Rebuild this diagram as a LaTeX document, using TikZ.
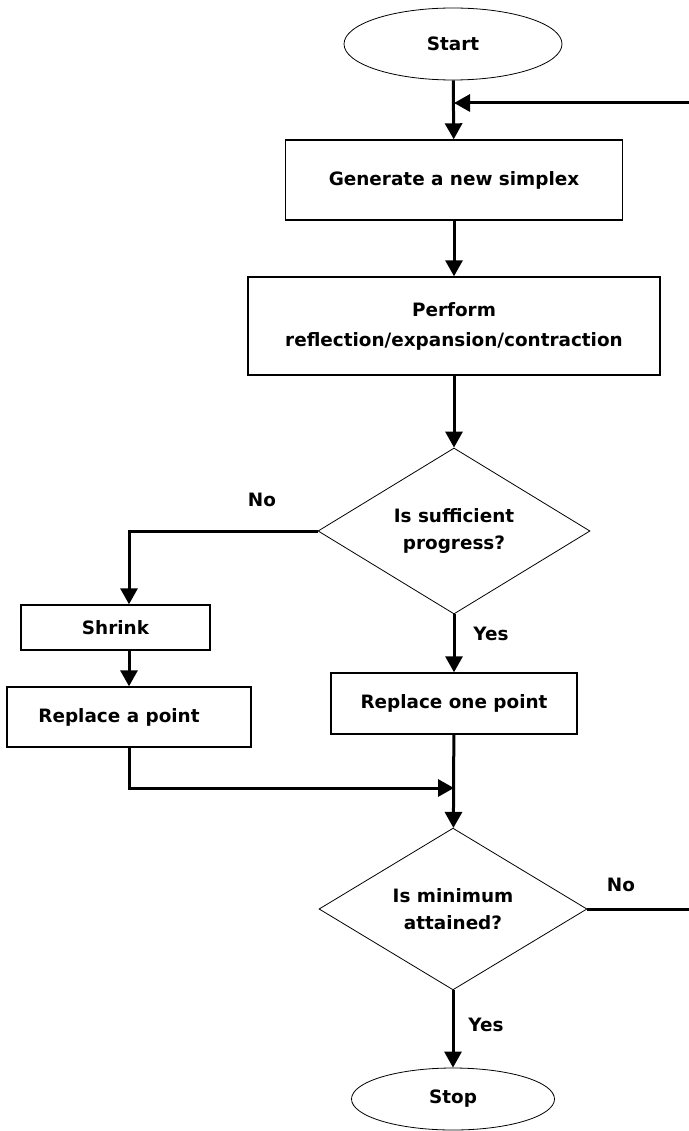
\documentclass[tikz,border=0pt]{standalone}
\usepackage{fontspec}
\setmainfont{DejaVu Sans}
\usetikzlibrary{arrows.meta}
\usetikzlibrary{shapes}
\tikzstyle{BoxNode}=[rectangle, draw=black, line width=1.4pt, inner sep=0pt, align=center]
\tikzstyle{EndNode}=[ellipse, draw=black, line width=0.8pt, inner sep=0pt]
\tikzstyle{TestNode}=[diamond, draw=black, line width=0.8pt, inner sep=0pt, align=center]
\tikzstyle{FlowEdge}=[->, line width=3pt]
\tikzstyle{PlainEdge}=[line width=3pt]
\tikzstyle{EdgeLabel}=[inner sep=0pt]
\tikzset{>={Triangle[length=16pt,width=17pt]}}

\begin{document}
\begin{tikzpicture}[x=1pt, y=-1pt, every node/.style={font=\fontsize{18.4}{27}\selectfont\bfseries}]
\useasboundingbox (0,0) rectangle (688,1131);

\node[EndNode, minimum width=218pt, minimum height=72pt](Start) at (453,44) {Start};
\node[BoxNode, minimum width=337pt, minimum height=80pt](Gen) at (454,180) {Generate a new simplex};
\node[BoxNode, minimum width=412pt, minimum height=98pt](Perf) at (454,326) {Perform\\[3pt]reflection/expansion/contraction};
\node[TestNode, minimum width=272pt, minimum height=166pt](Prog) at (454,531) {Is sufficient\\progress?};
\node[BoxNode, minimum width=189pt, minimum height=45pt](Shrink) at (115.5,627.5) {Shrink};
\node[BoxNode, minimum width=244pt, minimum height=60pt](RepA) at (129,717) {\hspace*{-20pt}Replace a point};
\node[BoxNode, minimum width=246pt, minimum height=61pt](RepOne) at (454,703.5) {Replace one point};
\node[TestNode, minimum width=268pt, minimum height=161pt](Min) at (453,909) {Is minimum\\attained?};
\node[EndNode, minimum width=203pt, minimum height=62pt](Stop) at (453,1099) {Stop};

\coordinate (Join) at (454,103);
\coordinate (Loop) at (691,103);
\coordinate (Merge) at (454,788);

\draw[FlowEdge](Start) -- (Gen);
\draw[FlowEdge](Min.east) -| (Loop) -- (Join);
\draw[FlowEdge](Gen) -- (Perf);
\draw[FlowEdge](Perf) -- (Prog);
\draw[FlowEdge](Prog.west) -| (Shrink.north -| RepA.north);
\draw[FlowEdge](Shrink.south -| RepA.north) -- (RepA.north);
\draw[FlowEdge](RepA.south) |- (Merge);
\draw[FlowEdge](Prog) -- (RepOne);
\draw[FlowEdge](RepOne) -- (Min);
\draw[FlowEdge](Min) -- (Stop);

\node[EdgeLabel](NoA) at (262,500) {No};
\node[EdgeLabel](YesA) at (491,634) {Yes};
\node[EdgeLabel](NoB) at (621,885) {No};
\node[EdgeLabel](YesB) at (486,1025) {Yes};
\end{tikzpicture}
\end{document}
